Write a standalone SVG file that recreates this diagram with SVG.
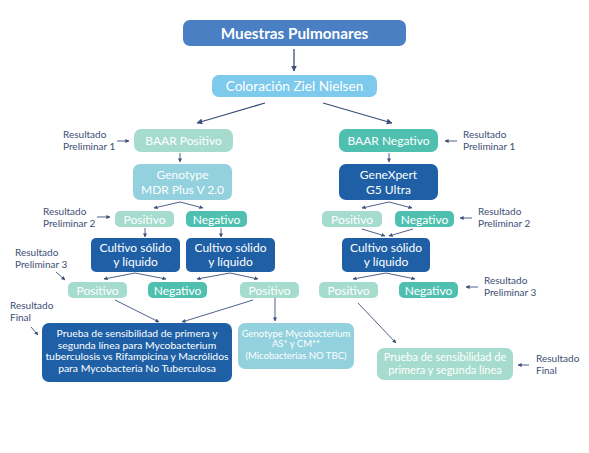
<svg xmlns="http://www.w3.org/2000/svg" width="589" height="453" viewBox="0 0 589 453">
<style>
text{font-family:Lato,"Open Sans","Liberation Sans",sans-serif;font-size:12px;}
.t{fill:#fff;text-anchor:middle;}
.f14{font-size:15.3px;font-weight:bold;}
.f13{font-size:13.6px;}
.f10{font-size:10.4px;}
.f95{font-size:9.5px;}
.f105{font-size:11px;}
.lbl{fill:#3d4e73;font-size:10px;}
.c line{stroke:#3b4f7a;stroke-width:1.3;marker-end:url(#ah);}
.c line.s{stroke-width:0.9;marker-end:url(#ahs);}
.db{fill:#1e5fa6;}
.mint{fill:#a6dccd;}
.teal{fill:#4fc0b0;}
.lb{fill:#93d1de;}
</style>
<defs>
<marker id="ah" viewBox="0 0 10 10" refX="9" refY="5" markerWidth="6" markerHeight="6" markerUnits="userSpaceOnUse" orient="auto"><path d="M0,0L10,5L0,10z" fill="#3b4f7a"/></marker>
<marker id="ahs" viewBox="0 0 10 10" refX="9" refY="5" markerWidth="4" markerHeight="4" markerUnits="userSpaceOnUse" orient="auto"><path d="M0,0L10,5L0,10z" fill="#3b4f7a"/></marker>
</defs>
<rect width="589" height="453" fill="#fff"/>

<g class="c">
<line x1="294" y1="49" x2="294" y2="71"/>
<line x1="265" y1="103" x2="197" y2="123"/>
<line x1="323" y1="103" x2="392" y2="123"/>
<line class="s" x1="180" y1="153" x2="180" y2="162"/>
<line class="s" x1="389" y1="153" x2="389" y2="162"/>
<line class="s" x1="180" y1="202" x2="154" y2="208"/>
<line class="s" x1="180" y1="202" x2="203" y2="208"/>
<line class="s" x1="389" y1="202" x2="362" y2="208"/>
<line class="s" x1="389" y1="202" x2="412" y2="208"/>
<line class="s" x1="145" y1="228" x2="145" y2="237"/>
<line class="s" x1="221" y1="228" x2="221" y2="237"/>
<line class="s" x1="362" y1="229" x2="385" y2="236"/>
<line class="s" x1="413" y1="229" x2="389" y2="236"/>
<line class="s" x1="135" y1="273" x2="104" y2="279"/>
<line class="s" x1="135" y1="273" x2="166" y2="279"/>
<line class="s" x1="230" y1="273" x2="197" y2="279"/>
<line class="s" x1="230" y1="273" x2="258" y2="279"/>
<line class="s" x1="386" y1="273" x2="353" y2="279"/>
<line class="s" x1="386" y1="273" x2="415" y2="279"/>
<line class="s" x1="115" y1="300" x2="159" y2="322"/>
<line class="s" x1="253" y1="300" x2="182" y2="322"/>
<line class="s" x1="275" y1="298" x2="275" y2="321"/>
<line class="s" x1="358" y1="303" x2="396" y2="343"/>
<line class="s" x1="117" y1="141" x2="129" y2="141"/>
<line class="s" x1="457" y1="141" x2="445" y2="141"/>
<line class="s" x1="97" y1="217" x2="110" y2="217"/>
<line class="s" x1="472" y1="218" x2="460" y2="218"/>
<line class="s" x1="56" y1="272" x2="65" y2="280"/>
<line class="s" x1="478" y1="287" x2="466" y2="287"/>
<line class="s" x1="31" y1="327" x2="38" y2="335"/>
<line class="s" x1="529" y1="365" x2="518" y2="365"/>
</g>

<g id="muestras"><rect x="183" y="20" width="223" height="26" rx="7" fill="#4a80c3"/><text class="t f14" x="294.5" y="38.5">Muestras Pulmonares</text></g>
<g id="coloracion"><rect x="212" y="75" width="165" height="22" rx="7" fill="#7dcaed"/><text class="t f13" x="294.5" y="91">Coloración Ziel Nielsen</text></g>

<g id="baar-pos"><rect class="mint" x="134" y="129" width="99" height="23" rx="7"/><text class="t" x="183.5" y="145">BAAR Positivo</text></g>
<g id="baar-neg"><rect class="teal" x="339" y="129" width="99" height="23" rx="7"/><text class="t" x="388.5" y="145">BAAR Negativo</text></g>

<g id="genotype-mdr"><rect class="lb" x="133" y="164" width="99" height="36" rx="7"/><text class="t" x="182.5" y="179">Genotype</text><text class="t" x="182.5" y="194">MDR Plus V 2.0</text></g>
<g id="genexpert"><rect class="db" x="339" y="164" width="99" height="36" rx="7"/><text class="t" x="388.5" y="179">GeneXpert</text><text class="t" x="388.5" y="194">G5 Ultra</text></g>

<g id="pos-a"><rect class="mint" x="115" y="211" width="59" height="16" rx="5"/><text class="t" x="144.5" y="223.5">Positivo</text></g>
<g id="neg-a"><rect class="teal" x="186" y="211" width="61" height="16" rx="5"/><text class="t" x="216.5" y="223.5">Negativo</text></g>
<g id="pos-b"><rect class="mint" x="322" y="211" width="60" height="16" rx="5"/><text class="t" x="352" y="223.5">Positivo</text></g>
<g id="neg-b"><rect class="teal" x="395" y="211" width="59" height="16" rx="5"/><text class="t" x="424.5" y="223.5">Negativo</text></g>

<g id="cultivo-a"><rect class="db" x="91" y="238" width="89" height="34" rx="5"/><text class="t" x="135.5" y="252">Cultivo sólido</text><text class="t" x="135.5" y="266">y líquido</text></g>
<g id="cultivo-b"><rect class="db" x="186" y="238" width="89" height="34" rx="5"/><text class="t" x="230.5" y="252">Cultivo sólido</text><text class="t" x="230.5" y="266">y líquido</text></g>
<g id="cultivo-c"><rect class="db" x="342" y="238" width="88" height="34" rx="5"/><text class="t" x="386" y="252">Cultivo sólido</text><text class="t" x="386" y="266">y líquido</text></g>

<g id="pos-c"><rect class="mint" x="68" y="282" width="59" height="16" rx="5"/><text class="t" x="97.5" y="294.5">Positivo</text></g>
<g id="neg-c"><rect class="teal" x="148" y="282" width="59" height="16" rx="5"/><text class="t" x="177.5" y="294.5">Negativo</text></g>
<g id="pos-d"><rect class="mint" x="240" y="282" width="59" height="16" rx="5"/><text class="t" x="269.5" y="294.5">Positivo</text></g>
<g id="pos-e"><rect class="mint" x="319" y="282" width="59" height="16" rx="5"/><text class="t" x="348.5" y="294.5">Positivo</text></g>
<g id="neg-e"><rect class="teal" x="399" y="282" width="59" height="16" rx="5"/><text class="t" x="428.5" y="294.5">Negativo</text></g>

<g id="prueba-a"><rect class="db" x="42" y="323" width="190" height="59" rx="7"/>
<text class="t f10" x="137" y="337">Prueba de sensibilidad de primera y</text>
<text class="t f10" x="137" y="348.5">segunda línea para Mycobacterium</text>
<text class="t f10" x="137" y="360">tuberculosis vs Rifampicina y Macrólidos</text>
<text class="t f10" x="137" y="371.5">para Mycobacteria No Tuberculosa</text></g>
<g id="genotype-myco"><rect class="lb" x="238" y="323" width="116" height="46" rx="7"/>
<text class="t f95" x="296" y="337">Genotype Mycobacterium</text>
<text class="t f95" x="296" y="347">AS* y CM**</text>
<text class="t f95" x="296" y="359">(Micobacterias NO TBC)</text></g>
<g id="prueba-b"><rect class="mint" x="377" y="348" width="136" height="32" rx="7"/>
<text class="t f105" x="445" y="361">Prueba de sensibilidad de</text>
<text class="t f105" x="445" y="374">primera y segunda línea</text></g>

<g id="labels">
<text class="lbl" x="63" y="138">Resultado</text><text class="lbl" x="63" y="150">Preliminar 1</text>
<text class="lbl" x="463" y="138">Resultado</text><text class="lbl" x="463" y="150">Preliminar 1</text>
<text class="lbl" x="43" y="215">Resultado</text><text class="lbl" x="43" y="227">Preliminar 2</text>
<text class="lbl" x="478" y="215">Resultado</text><text class="lbl" x="478" y="227">Preliminar 2</text>
<text class="lbl" x="15" y="256">Resultado</text><text class="lbl" x="15" y="268">Preliminar 3</text>
<text class="lbl" x="484" y="284">Resultado</text><text class="lbl" x="484" y="296">Preliminar 3</text>
<text class="lbl" x="10" y="309">Resultado</text><text class="lbl" x="10" y="321">Final</text>
<text class="lbl" x="536" y="362">Resultado</text><text class="lbl" x="536" y="374">Final</text>
</g>
</svg>
